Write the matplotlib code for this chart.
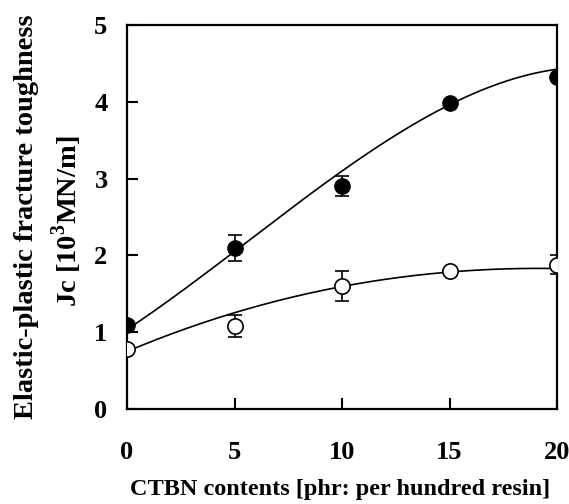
import numpy as np
import matplotlib
matplotlib.use("Agg")
import matplotlib.pyplot as plt

plt.rcParams['font.family'] = ['Liberation Serif', 'DejaVu Serif']
plt.rcParams['font.weight'] = 'bold'
plt.rcParams['mathtext.fontset'] = 'custom'
plt.rcParams['mathtext.rm'] = 'Liberation Serif:bold'
plt.rcParams['mathtext.bf'] = 'Liberation Serif:bold'

ctbn = [0, 5, 10, 15, 20]
filled_jc = [1.10, 2.10, 2.90, 3.98, 4.32]
filled_err = [0.0, 0.17, 0.13, 0.0, 0.0]
open_jc = [0.78, 1.08, 1.60, 1.80, 1.88]
open_err = [0.0, 0.14, 0.20, 0.0, 0.12]
# fitted trend curves at the same CTBN contents
filled_fit = [1.03, 2.07, 3.07, 3.98, 4.42]
open_fit = [0.75, 1.25, 1.60, 1.78, 1.83]
xticks = [0, 5, 10, 15, 20]
yticks = [0, 1, 2, 3, 4, 5]

fig = plt.figure(figsize=(5.69, 5.04), dpi=100)
ax = fig.add_axes([127/569, 1-409/504, (557-127)/569, (409-25)/504])

xs = np.linspace(0, 20, 200)
for y, deg in ((filled_fit, 3), (open_fit, 3)):
    c = np.polyfit(ctbn, y, deg)
    ax.plot(xs, np.polyval(c, xs), color='black', lw=1.2, zorder=2)

ax.errorbar(ctbn, filled_jc, yerr=filled_err, fmt='o', color='black', mfc='black',
            mec='black', ms=11, capsize=5, elinewidth=1.2, capthick=1.2, zorder=3)
ax.errorbar(ctbn, open_jc, yerr=open_err, fmt='o', color='black', mfc='white',
            mec='black', mew=1.2, ms=11, capsize=5, elinewidth=1.2, capthick=1.2, zorder=3)

ax.set_xlim(0, 20)
ax.set_ylim(0, 5)
ax.set_xticks(xticks)
ax.set_yticks(yticks)
ax.tick_params(direction='in', length=8, width=1.5, labelsize=19)
ax.tick_params(axis='x', pad=23)
ax.tick_params(axis='y', pad=14)
for s in ax.spines.values():
    s.set_linewidth(1.6)
for lab in ax.get_xticklabels() + ax.get_yticklabels():
    lab.set_fontweight('bold')

fig.text(27/569, 1-217/504, 'Elastic-plastic fracture toughness', rotation=90,
         ha='center', va='center', fontsize=20.5, fontweight='bold')
fig.text(67/569, 1-221/504, r'Jc [10$^{3}$MN/m]', rotation=90,
         ha='center', va='center', fontsize=20.5, fontweight='bold')
fig.text(340/569, 1-490/504, 'CTBN contents [phr: per hundred resin]',
         ha='center', va='center', fontsize=17.5, fontweight='bold')

fig.savefig('out.png', dpi=100)
